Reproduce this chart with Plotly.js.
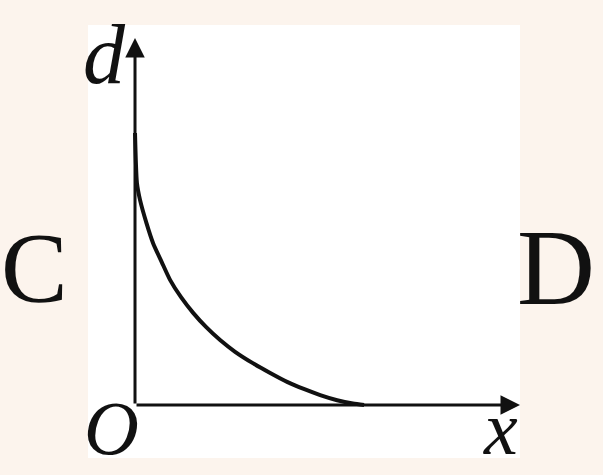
<!DOCTYPE html>
<html>
<head>
<meta charset="utf-8">
<script src="https://cdn.plot.ly/plotly-3.0.1.min.js"></script>
<style>html,body{margin:0;padding:0;background:#fcf4ed;}#chart{width:603px;height:475px;}</style>
</head>
<body>
<div id="chart"></div>
<script>
// Curve d(x) (arbitrary units: x from 0 to 10, d from 0 to 10)
const curveX = [0, 0.05, 0.13, 0.30, 0.47, 0.70, 0.91, 1.20, 1.51, 1.85, 2.21, 2.60, 3.06, 3.50, 3.95, 4.40, 4.81, 5.25, 5.66, 5.95];
const curveD = [7.41, 6.05, 5.59, 4.95, 4.41, 3.88, 3.41, 2.93, 2.51, 2.12, 1.77, 1.45, 1.14, 0.88, 0.63, 0.43, 0.27, 0.13, 0.04, 0.0];
// Axis ends (arrow tips)
const axisXEnd = [10, 0];
const axisYEnd = [0, 10.0];
// Labels
const axisLabels = {y: "d", x: "x", origin: "O"};
const optionLabels = ["C", "D"];

const serif = "'Liberation Serif', 'Times New Roman', Times, serif";
const italicBig = {family: serif, size: 84, color: "#111", style: "italic"};
const italic = {family: serif, size: 76, color: "#111", style: "italic"};
const romanC = {family: serif, size: 100, color: "#111"};
const roman = {family: serif, size: 108, color: "#111"};

const traces = [{
  x: curveX, y: curveD, type: "scatter", mode: "lines",
  line: {color: "#111", width: 4, shape: "spline", smoothing: 0.6},
  hoverinfo: "skip", showlegend: false
}];

const layout = {
  width: 603, height: 475,
  margin: {l: 88, r: 83, t: 25, b: 17, pad: 0},
  paper_bgcolor: "#fcf4ed",
  plot_bgcolor: "#ffffff",
  showlegend: false,
  xaxis: {range: [-1.221, 10.0], visible: false, fixedrange: true},
  yaxis: {range: [-1.444, 10.354], visible: false, fixedrange: true},
  annotations: [
    {x: axisXEnd[0], y: axisXEnd[1], ax: 0, ay: 0, xref: "x", yref: "y", axref: "x", ayref: "y",
     text: "", showarrow: true, arrowhead: 2, arrowsize: 1.3, arrowwidth: 3, arrowcolor: "#111"},
    {x: axisYEnd[0], y: axisYEnd[1], ax: 0, ay: 0, xref: "x", yref: "y", axref: "x", ayref: "y",
     text: "", showarrow: true, arrowhead: 2, arrowsize: 1.3, arrowwidth: 3, arrowcolor: "#111"},
    {x: -0.8, y: 9.56, xref: "x", yref: "y", xanchor: "center", yanchor: "middle", text: axisLabels.y, showarrow: false, font: italicBig},
    {x: -0.6, y: -0.62, xref: "x", yref: "y", xanchor: "center", yanchor: "middle", text: axisLabels.origin, showarrow: false, font: italic},
    {x: 9.5, y: -0.62, xref: "x", yref: "y", xanchor: "center", yanchor: "middle", text: axisLabels.x, showarrow: false, font: italic},
    {x: -0.125, y: 0.44, xref: "paper", yref: "paper", xanchor: "center", yanchor: "middle", text: optionLabels[0], showarrow: false, font: romanC},
    {x: 1.083, y: 0.44, xref: "paper", yref: "paper", xanchor: "center", yanchor: "middle", text: optionLabels[1], showarrow: false, font: roman}
  ]
};

Plotly.newPlot("chart", traces, layout, {displayModeBar: false, staticPlot: true});
</script>
</body>
</html>
